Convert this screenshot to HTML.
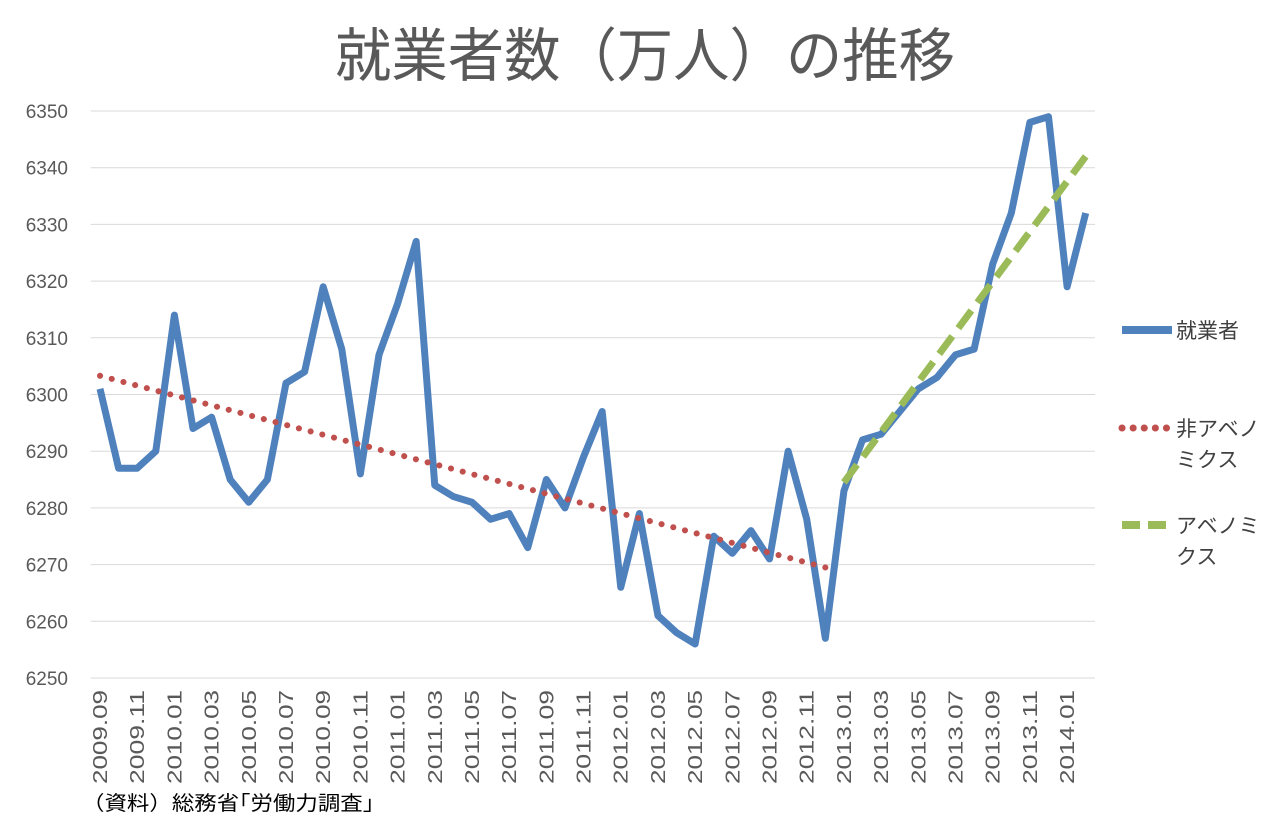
<!DOCTYPE html>
<html><head><meta charset="utf-8">
<style>
html,body{margin:0;padding:0;background:#fff;}
body{width:1280px;height:831px;overflow:hidden;font-family:"Liberation Sans","Noto Sans CJK JP",sans-serif;}
</style></head>
<body>
<svg id="chart" width="1280" height="831" xmlns="http://www.w3.org/2000/svg" font-family="Liberation Sans, Noto Sans CJK JP, sans-serif">
<text x="335" y="76" font-size="58" fill="#595959" font-family="Noto Sans CJK JP, sans-serif" textLength="620" lengthAdjust="spacingAndGlyphs">就業者数（万人）の推移</text>
<g id="grid"></g><g id="yticks"></g><g id="xticks"></g><g id="series"></g>
<g>
<line x1="1122" y1="330" x2="1172" y2="330" stroke="#4f81bd" stroke-width="8"/>
<text x="1176" y="338" font-size="21" fill="#404040">就業者</text>
<line x1="1122" y1="428" x2="1172" y2="428" stroke="#c0504d" stroke-width="7" stroke-dasharray="0.1 11" stroke-linecap="round"/>
<text x="1176" y="436" font-size="21" fill="#404040">非アベノ</text>
<text x="1176" y="467" font-size="21" fill="#404040">ミクス</text>
<line x1="1122" y1="525" x2="1172" y2="525" stroke="#9bbb59" stroke-width="8" stroke-dasharray="18 8"/>
<text x="1176" y="533" font-size="21" fill="#404040">アベノミ</text>
<text x="1176" y="564" font-size="21" fill="#404040">クス</text>
</g>
<text x="82" y="810" font-size="20" fill="#000" textLength="292" lengthAdjust="spacingAndGlyphs">（資料）総務省｢労働力調査｣</text>
</svg>
<script>
const values=[6301,6287,6287,6290,6314,6294,6296,6285,6281,6285,6302,6304,6319,6308,6286,6307,6316,6327,6284,6282,6281,6278,6279,6273,6285,6280,6289,6297,6266,6279,6261,6258,6256,6275,6272,6276,6271,6290,6278,6257,6283,6292,6293,6297,6301,6303,6307,6308,6323,6332,6348,6349,6319,6332];
const yTicks=[6250,6260,6270,6280,6290,6300,6310,6320,6330,6340,6350];
const startYear=2009, startMonth=9;
const trendNonIdx=[0,39], trendNonVal=[6303.3,6269.5];
const trendAbeIdx=[40,53], trendAbeVal=[6284.5,6342];
const NS="http://www.w3.org/2000/svg";
const L=90.7,R=1095,T=111,B=678;
const step=(R-L)/values.length;
const X=i=>L+step*(i+0.5);
const Y=v=>B-(v-6250)/100*(B-T);
function mk(tag,attrs,parent){const e=document.createElementNS(NS,tag);for(const k in attrs)e.setAttribute(k,attrs[k]);document.getElementById(parent).appendChild(e);return e;}
yTicks.forEach(t=>{
 const g=mk('line',{x1:L,x2:R,y1:Y(t),y2:Y(t),stroke:'#d9d9d9','stroke-width':1},'grid');
 
 
 const tx=mk('text',{x:68,y:Y(t)+7,'text-anchor':'end','font-size':19,fill:'#595959'},'yticks');
 tx.textContent=t;
 
 
});
values.forEach((v,i)=>{
 if(i%2)return;
 const m=(startMonth-1+i)%12+1, y=startYear+Math.floor((startMonth-1+i)/12);
 const tx=mk('text',{x:0,y:0,'text-anchor':'end','font-size':20,fill:'#595959',transform:`translate(${X(i)+7},${B+12}) rotate(-90)`,textLength:94,lengthAdjust:'spacingAndGlyphs'},'xticks');
 tx.textContent=y+'.'+String(m).padStart(2,'0');
 
 
});
const p=mk('polyline',{points:values.map((v,i)=>X(i)+','+Y(v)).join(' '),fill:'none',stroke:'#4f81bd','stroke-width':7,'stroke-linejoin':'round'},'series');


const t1=mk('line',{x1:X(trendNonIdx[0]),y1:Y(trendNonVal[0]),x2:X(trendNonIdx[1]),y2:Y(trendNonVal[1]),stroke:'#c0504d','stroke-width':6,'stroke-dasharray':'0.1 12','stroke-linecap':'round'},'series');


const t2=mk('line',{x1:X(trendAbeIdx[0]),y1:Y(trendAbeVal[0]),x2:X(trendAbeIdx[1]),y2:Y(trendAbeVal[1]),stroke:'#9bbb59','stroke-width':7,'stroke-dasharray':'22 10'},'series');


</script>
</body></html>
